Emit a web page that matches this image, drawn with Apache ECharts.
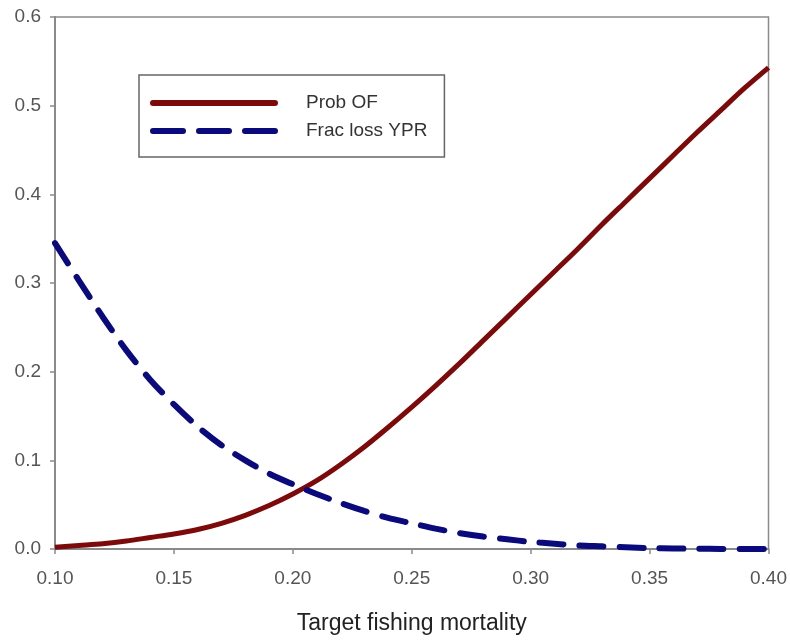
<!DOCTYPE html>
<html>
<head>
<meta charset="utf-8">
<script src="https://cdn.jsdelivr.net/npm/echarts@6/dist/echarts.min.js"></script>
<style>
  html, body { margin: 0; padding: 0; background: #fff; }
  #charts { width: 790px; height: 640px; }
</style>
</head>
<body>
<div id="charts"></div>
<script>
// target fishing mortality (x)
var fValues = [0.10, 0.11, 0.12, 0.13, 0.14, 0.15, 0.16, 0.17, 0.18, 0.19, 0.20,
               0.21, 0.22, 0.23, 0.24, 0.25, 0.26, 0.27, 0.28, 0.29, 0.30,
               0.31, 0.32, 0.33, 0.34, 0.35, 0.36, 0.37, 0.38, 0.39, 0.40];
// Prob OF
var probOF = [0.002, 0.004, 0.006, 0.009, 0.013, 0.017, 0.022, 0.029, 0.038, 0.049, 0.062,
              0.077, 0.095, 0.115, 0.137, 0.160, 0.184, 0.209, 0.235, 0.261, 0.287,
              0.313, 0.339, 0.366, 0.392, 0.418, 0.444, 0.470, 0.495, 0.520, 0.543];
// Frac loss YPR
var fracLoss = [0.345, 0.303, 0.262, 0.224, 0.191, 0.163, 0.138, 0.117, 0.100, 0.085, 0.073,
                0.062, 0.052, 0.043, 0.035, 0.029, 0.023, 0.018, 0.014, 0.011, 0.008,
                0.006, 0.004, 0.003, 0.002, 0.001, 0.0006, 0.0003, 0.0001, 0, 0];
var yTicks = [0, 0.1, 0.2, 0.3, 0.4, 0.5, 0.6];

function pairs(xs, ys) {
    return xs.map(function (x, i) { return [x, ys[i]]; });
}

var myChart = echarts.init(document.getElementById('charts'));

var axisGray = '#8a8a8a';
var labelGray = '#555';
var darkRed = '#7d0a0a';
var navy = '#0a0a7d';

// legend icons: a solid bar and three dashes
var solidIcon = 'path://M3,0H125A3,3,0,0,1,125,6H3A3,3,0,0,1,3,0Z';
var dashIcon = 'path://M3,0H33A3,3,0,0,1,33,6H3A3,3,0,0,1,3,0Z' +
               'M49,0H79A3,3,0,0,1,79,6H49A3,3,0,0,1,49,0Z' +
               'M95,0H125A3,3,0,0,1,125,6H95A3,3,0,0,1,95,0Z';

var option = {
    animation: false,
    backgroundColor: '#fff',
    textStyle: { fontFamily: 'Liberation Sans, Arial, sans-serif' },
    grid: {
        left: 55, right: 20, top: 17, bottom: 91,
        show: true,
        borderColor: axisGray,
        borderWidth: 1.5
    },
    legend: {
        orient: 'vertical',
        left: 139, top: 75,
        padding: [18, 17, 16, 11],
        itemWidth: 128,
        itemHeight: 6,
        itemGap: 8,
        symbolKeepAspect: false,
        borderColor: '#666',
        borderWidth: 1.5,
        textStyle: { fontSize: 19, lineHeight: 20, color: '#333', padding: [0, 0, 0, 23] },
        data: [
            { name: 'Prob OF', icon: solidIcon },
            { name: 'Frac loss YPR', icon: dashIcon }
        ]
    },
    xAxis: {
        type: 'value',
        min: 0.10, max: 0.40, interval: 0.05,
        name: 'Target fishing mortality',
        nameLocation: 'middle',
        nameGap: 63,
        nameTextStyle: { fontSize: 23, color: '#222' },
        axisLine: { lineStyle: { color: axisGray, width: 2 } },
        axisTick: { show: true, length: 5, lineStyle: { color: axisGray, width: 1.5 } },
        axisLabel: {
            fontSize: 19, color: labelGray, margin: 20,
            formatter: function (v) { return v.toFixed(2); }
        },
        splitLine: { show: false }
    },
    yAxis: {
        type: 'value',
        min: yTicks[0], max: yTicks[yTicks.length - 1], interval: 0.1,
        axisLine: { show: true, lineStyle: { color: axisGray, width: 2 } },
        axisTick: { show: true, length: 5, lineStyle: { color: axisGray, width: 1.5 } },
        axisLabel: {
            fontSize: 19, color: labelGray, margin: 14,
            formatter: function (v) { return v.toFixed(1); }
        },
        splitLine: { show: false }
    },
    series: [
        {
            name: 'Prob OF',
            type: 'line',
            smooth: 0.3,
            symbol: 'none',
            data: pairs(fValues, probOF),
            itemStyle: { color: darkRed },
            lineStyle: { color: darkRed, width: 5 }
        },
        {
            name: 'Frac loss YPR',
            type: 'line',
            smooth: 0.3,
            symbol: 'none',
            data: pairs(fValues, fracLoss),
            itemStyle: { color: navy },
            lineStyle: { color: navy, width: 6, type: [24, 16], cap: 'round' }
        }
    ]
};
myChart.setOption(option);
window.addEventListener('resize', function () {
    myChart.resize();
});
</script>
</body>
</html>
